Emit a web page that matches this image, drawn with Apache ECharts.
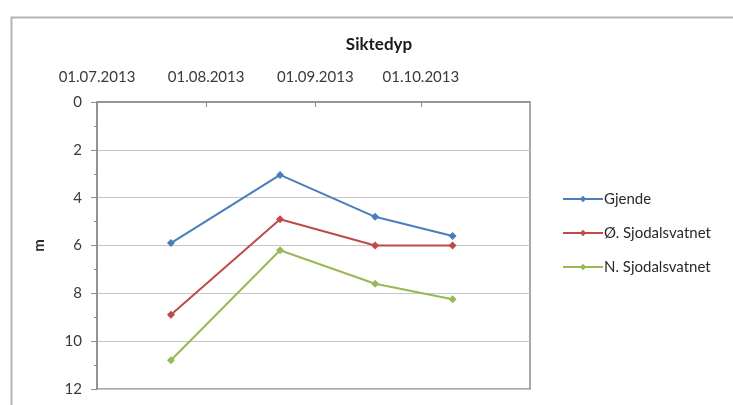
<!DOCTYPE html>
<html>
<head>
<meta charset="utf-8">
<script src="https://cdn.jsdelivr.net/npm/echarts@6/dist/echarts.min.js"></script>
<style>
html,body{margin:0;padding:0;background:#fff;}
#c{width:733px;height:405px;}
</style>
</head>
<body>
<div id="c"></div>
<script>
const title = 'Siktedyp';
const dates = ['2013-07-22', '2013-08-22', '2013-09-18', '2013-10-10'];
const seriesNames = ['Gjende', 'Ø. Sjodalsvatnet', 'N. Sjodalsvatnet'];
const gjende = [5.9, 3.05, 4.8, 5.6];
const oSjodal = [8.9, 4.9, 6.0, 6.0];
const nSjodal = [10.8, 6.2, 7.6, 8.25];
const colors = ['#4a7ebb', '#be4b48', '#98b954'];
const xMin = '2013-07-01';
const xMax = '2013-11-01';
const yAxisName = 'm';

const FONT = 'Lato';
function pair(vals){ return dates.map((d,i)=>[d, vals[i]]); }
function pad(n){ return (n<10?'0':'')+n; }

const chart = echarts.init(document.getElementById('c'), null, {renderer:'canvas'});
const seriesData = [gjende, oSjodal, nSjodal];
chart.setOption({
  backgroundColor: '#ffffff',
  animation: false,
  textStyle: {fontFamily: FONT},
  graphic: [{
    type: 'rect', left: 9, top: 15, shape: {width: 760, height: 420},
    style: {fill: 'none', stroke: '#b4b4b4', lineWidth: 2}, silent: true, z: -1
  }],
  title: {
    text: title, left: 374, top: 31, textAlign: 'center',
    textStyle: {fontFamily: FONT, fontSize: 17, fontWeight: 'bold', color: '#1a1a1a'}
  },
  legend: {
    orient: 'vertical', left: 557, top: 184,
    itemWidth: 40, itemHeight: 8, itemGap: 14,
    textStyle: {fontFamily: FONT, fontSize: 15, color: '#2a2a2a', padding: [0,0,0,-4], lineHeight: 20},
    data: seriesNames
  },
  grid: {left: 97, top: 102, right: 203, bottom: 16, show: true, borderColor: '#8c8c8c', borderWidth: 1.5, backgroundColor: 'transparent'},
  xAxis: {
    type: 'time', position: 'top', min: xMin, max: xMax,
    minInterval: 27*86400000, maxInterval: 32*86400000,
    axisLine: {show: true, lineStyle: {color: '#8c8c8c', width: 1.5}},
    axisTick: {show: true, inside: true, length: 5, lineStyle: {color: '#8c8c8c'}},
    splitLine: {show: false},
    axisLabel: {
      fontFamily: FONT, fontSize: 15, color: '#3a3a3a', margin: 17, hideOverlap: false,
      formatter: function(v){
        const d = new Date(v);
        if (d.getMonth() === 10) return '';
        return pad(d.getDate())+'.'+pad(d.getMonth()+1)+'.'+d.getFullYear();
      }
    }
  },
  yAxis: {
    type: 'value', inverse: true, min: 0, max: 12, interval: 2,
    name: yAxisName, nameLocation: 'middle', nameGap: 50, nameRotate: 90,
    nameTextStyle: {fontFamily: FONT, fontSize: 15, fontWeight: 'bold', color: '#2a2a2a'},
    axisLine: {show: true, lineStyle: {color: '#8c8c8c', width: 1.5}},
    axisTick: {show: true, length: 6, lineStyle: {color: '#8c8c8c'}},
    minorTick: {show: true, splitNumber: 2, length: 3, lineStyle: {color: '#8c8c8c'}},
    splitLine: {show: true, lineStyle: {color: '#c6c6c6', width: 1}},
    axisLabel: {fontFamily: FONT, fontSize: 15, color: '#3a3a3a', margin: 15}
  },
  series: seriesNames.map((n,i)=>({
    name: n, type: 'line', data: pair(seriesData[i]),
    symbol: 'diamond', symbolSize: 8, showAllSymbol: true,
    itemStyle: {color: colors[i]},
    lineStyle: {color: colors[i], width: 2}
  }))
});
</script>
</body>
</html>
